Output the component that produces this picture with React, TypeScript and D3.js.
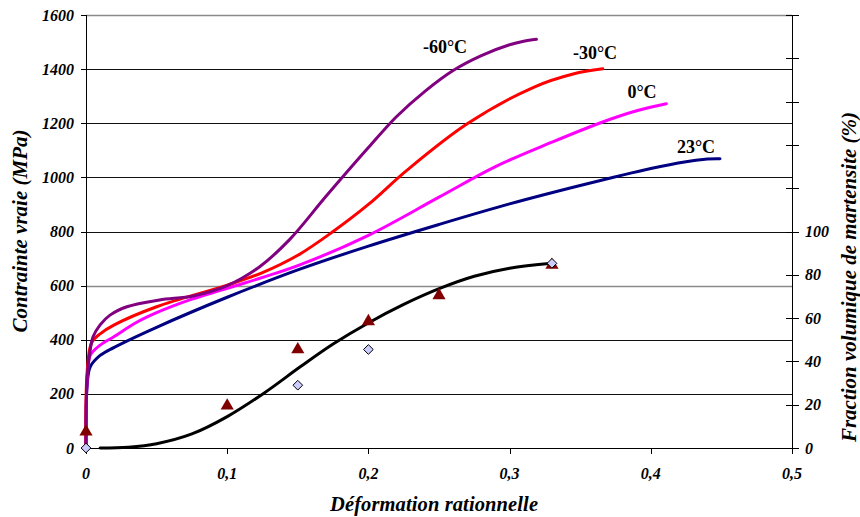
import React from "react";
import * as d3 from "d3";

const W = 860;
const H = 517;
const M = { left: 86, right: 792, top: 15, bottom: 448 };

const stressTicks = [0, 200, 400, 600, 800, 1000, 1200, 1400, 1600];
const strainTicks = [0, 0.1, 0.2, 0.3, 0.4, 0.5];
const strainTickLabels = ["0", "0,1", "0,2", "0,3", "0,4", "0,5"];
const fractionTicks = [0, 20, 40, 60, 80, 100, 120, 140, 160, 180, 200];
const fractionLabelled = [0, 20, 40, 60, 80, 100];

const curve23: [number, number][] = [
  [0, 0], [0.0008, 230], [0.003, 300], [0.01, 342], [0.02, 372], [0.05, 446],
  [0.1, 557], [0.15, 658], [0.2, 746], [0.25, 826], [0.3, 902], [0.35, 970],
  [0.4, 1033], [0.425, 1058], [0.44, 1068], [0.449, 1069],
];
const curve0: [number, number][] = [
  [0, 0], [0.0008, 250], [0.003, 342], [0.01, 380], [0.02, 412], [0.035, 462],
  [0.05, 500], [0.075, 550], [0.1, 590], [0.15, 674], [0.2, 786], [0.25, 927],
  [0.29, 1040], [0.33, 1130], [0.364, 1201], [0.39, 1246], [0.411, 1272],
];
const curveM30: [number, number][] = [
  [0, 0], [0.0008, 280], [0.004, 390], [0.01, 422], [0.02, 455], [0.05, 522],
  [0.1, 602], [0.125, 648], [0.15, 712], [0.175, 800], [0.2, 900], [0.227, 1025],
  [0.27, 1198], [0.317, 1333], [0.345, 1382], [0.366, 1401],
];
const curveM60: [number, number][] = [
  [0, 0], [0.0008, 260], [0.003, 362], [0.005, 411], [0.01, 455], [0.017, 491],
  [0.029, 522], [0.052, 547], [0.076, 562], [0.1, 600], [0.123, 670], [0.144, 769],
  [0.17, 930], [0.2, 1110], [0.22, 1225], [0.24, 1318], [0.26, 1395],
  [0.28, 1450], [0.3, 1490], [0.31, 1503], [0.319, 1510],
];
const martensiteFit: [number, number][] = [
  [0.01, 0], [0.03, 0.4], [0.05, 2], [0.075, 6.5], [0.1, 14.5], [0.126, 25.3],
  [0.152, 37.6], [0.175, 48], [0.199, 57.4], [0.225, 66.3], [0.251, 73.8],
  [0.275, 79.3], [0.3, 83], [0.33, 85.3],
];
const triangles: [number, number][] = [
  [0, 7.5], [0.1, 19.5], [0.15, 45.5], [0.2, 58.5], [0.25, 70.5], [0.33, 84.5],
];
const diamonds: [number, number][] = [
  [0, 0], [0.15, 29], [0.2, 45.5], [0.33, 85.3],
];

const series = [
  { name: "23°C", data: curve23, color: "#000080", label: [696, 147] },
  { name: "0°C", data: curve0, color: "#FF00FF", label: [642, 92] },
  { name: "-30°C", data: curveM30, color: "#FF0000", label: [595, 53] },
  { name: "-60°C", data: curveM60, color: "#800080", label: [445, 47] },
];

const FONT = "'Liberation Serif', 'Times New Roman', serif";

export default function App() {
  const x = d3.scaleLinear().domain([0, 0.5]).range([M.left, M.right]);
  const y = d3.scaleLinear().domain([0, 1600]).range([M.bottom, M.top]);
  const y2 = d3.scaleLinear().domain([0, 200]).range([M.bottom, M.top]);

  const line = d3
    .line<[number, number]>()
    .x((d) => x(d[0]))
    .y((d) => y(d[1]))
    .curve(d3.curveCatmullRom.alpha(0.5));
  const line2 = d3
    .line<[number, number]>()
    .x((d) => x(d[0]))
    .y((d) => y2(d[1]))
    .curve(d3.curveCatmullRom.alpha(0.5));

  const tri = d3.symbol().type(d3.symbolTriangle).size(75)();
  const dia = d3.symbol().type(d3.symbolDiamond2 || d3.symbolDiamond).size(60)();

  const snap = (v: number) => Math.round(v) + 0.5;

  return (
    <svg
      width={W}
      height={H}
      style={{ position: "absolute", left: 0, top: 0, background: "#fff" }}
      fontFamily={FONT}
    >
      <rect x={0} y={0} width={W} height={H} fill="#fff" />
      {stressTicks.slice(1).map((t) => (
        <line
          key={"g" + t}
          x1={M.left}
          x2={M.right}
          y1={snap(y(t))}
          y2={snap(y(t))}
          stroke={t === 600 || t === 1600 ? "#8a8a8a" : "#111"}
          strokeWidth={t === 600 || t === 1600 ? 1.6 : 1}
        />
      ))}
      <line x1={M.left + 0.5} x2={M.left + 0.5} y1={M.top} y2={M.bottom} stroke="#000" />
      <line x1={M.right + 0.5} x2={M.right + 0.5} y1={M.top} y2={M.bottom} stroke="#000" />
      <line x1={M.left} x2={M.right} y1={M.bottom + 0.5} y2={M.bottom + 0.5} stroke="#000" />
      {stressTicks.map((t) => (
        <g key={"l" + t}>
          <line x1={M.left - 5} x2={M.left} y1={snap(y(t))} y2={snap(y(t))} stroke="#000" />
          <text
            x={74}
            y={y(t)}
            dy="0.35em"
            textAnchor="end"
            fontSize={16}
            fontWeight="bold"
            fontStyle="italic"
          >
            {t}
          </text>
        </g>
      ))}
      {strainTicks.map((t, i) => (
        <g key={"b" + t}>
          <line
            x1={snap(x(t))}
            x2={snap(x(t))}
            y1={M.bottom}
            y2={M.bottom + 6}
            stroke="#000"
          />
          <text
            x={x(t)}
            y={479}
            textAnchor="middle"
            fontSize={16}
            fontWeight="bold"
            fontStyle="italic"
          >
            {strainTickLabels[i]}
          </text>
        </g>
      ))}
      {fractionTicks.map((t) => (
        <line
          key={"r" + t}
          x1={M.right - 6}
          x2={M.right + 7}
          y1={snap(y2(t))}
          y2={snap(y2(t))}
          stroke="#000"
        />
      ))}
      {fractionLabelled.map((t) => (
        <text
          key={"rl" + t}
          x={805}
          y={y2(t)}
          dy="0.35em"
          textAnchor="start"
          fontSize={16}
          fontWeight="bold"
          fontStyle="italic"
        >
          {t}
        </text>
      ))}
      <text
        transform={`translate(27,231) rotate(-90)`}
        textAnchor="middle"
        fontSize={21}
        fontWeight="bold"
        fontStyle="italic"
      >
        Contrainte vraie (MPa)
      </text>
      <text
        transform={`translate(856,277) rotate(-90)`}
        textAnchor="middle"
        fontSize={21}
        fontWeight="bold"
        fontStyle="italic"
      >
        Fraction volumique de martensite (%)
      </text>
      <text
        x={434}
        y={511}
        textAnchor="middle"
        fontSize={20.5}
        fontWeight="bold"
        fontStyle="italic"
        textLength={208}
        lengthAdjust="spacing"
      >
        Déformation rationnelle
      </text>
      {series.map((s) => (
        <path
          key={s.name}
          d={line(s.data) || ""}
          fill="none"
          stroke={s.color}
          strokeWidth={3}
          strokeLinejoin="round"
          strokeLinecap="round"
        />
      ))}
      <path
        d={line2(martensiteFit) || ""}
        fill="none"
        stroke="#000"
        strokeWidth={3}
        strokeLinecap="round"
      />
      {triangles.map((p, i) => (
        <path
          key={"t" + i}
          d={tri || ""}
          transform={`translate(${x(p[0])},${y2(p[1])})`}
          fill="#800000"
        />
      ))}
      {diamonds.map((p, i) => (
        <path
          key={"d" + i}
          d={dia || ""}
          transform={`translate(${x(p[0])},${y2(p[1])})`}
          fill="#CCCCFF"
          stroke="#000"
          strokeWidth={1}
        />
      ))}
      {series.map((s) => (
        <text
          key={"lab" + s.name}
          x={s.label[0]}
          y={s.label[1]}
          dy="0.35em"
          textAnchor="middle"
          fontSize={18}
          fontWeight="bold"
        >
          {s.name}
        </text>
      ))}
    </svg>
  );
}
